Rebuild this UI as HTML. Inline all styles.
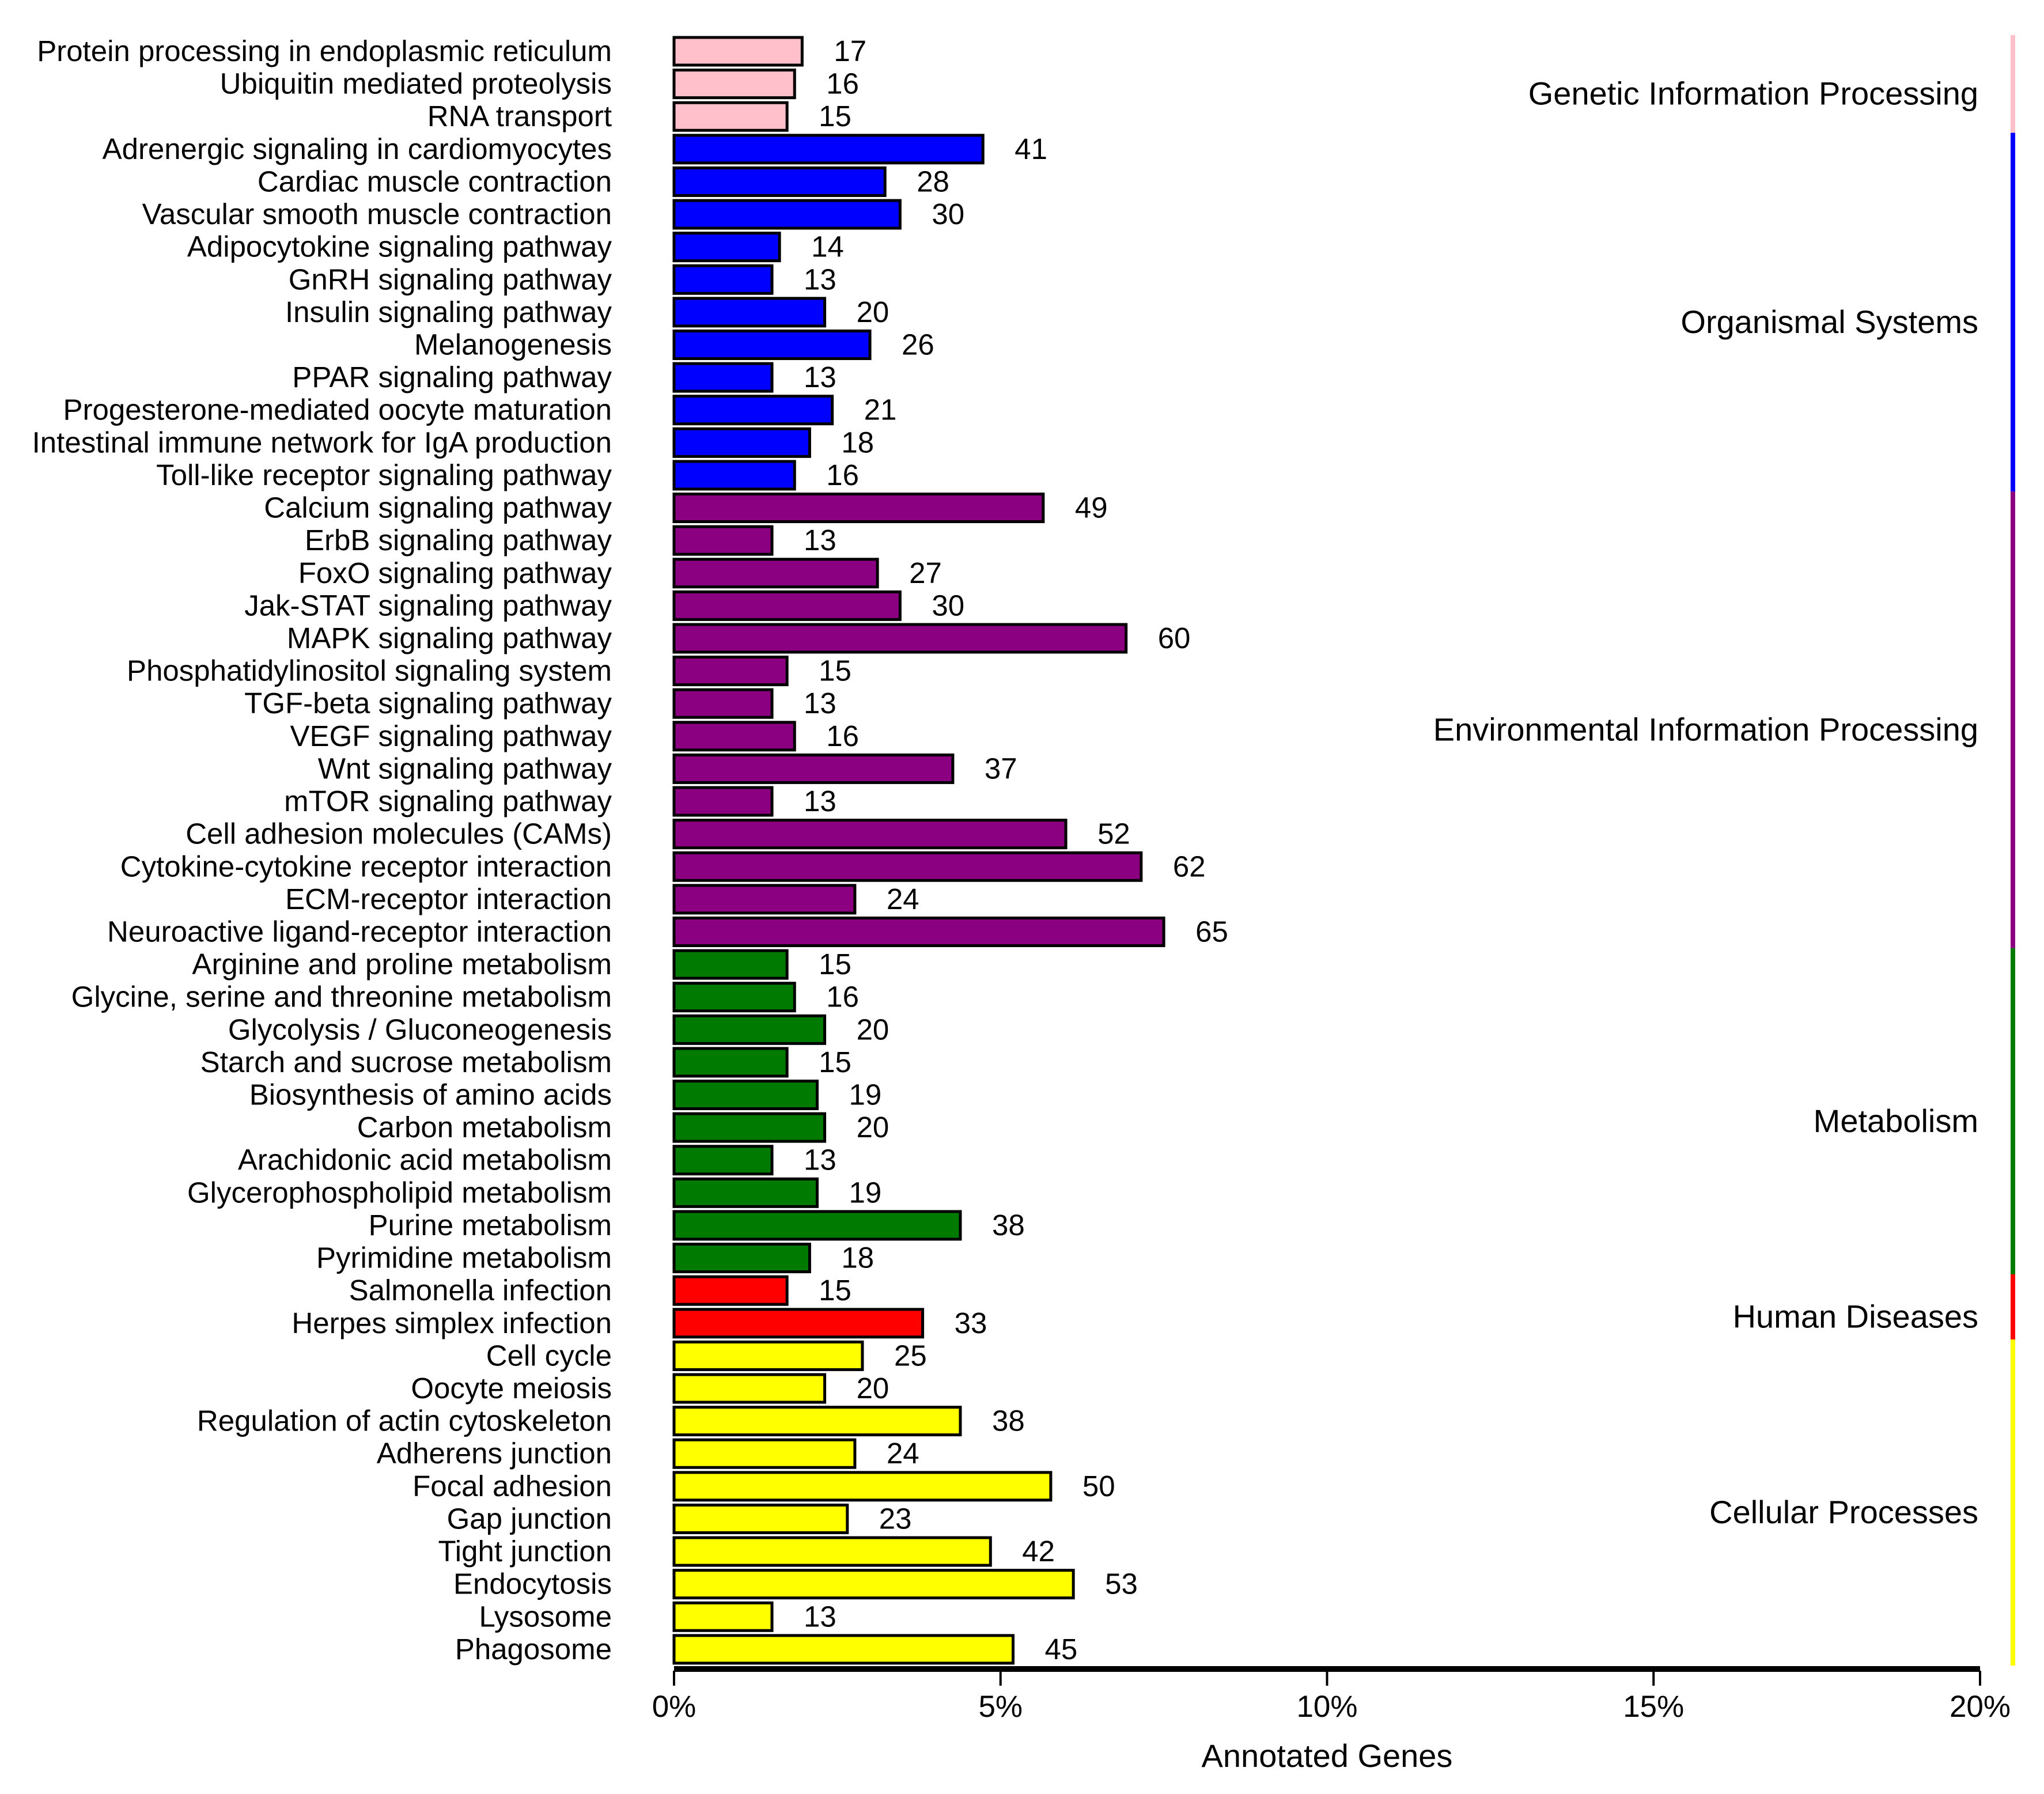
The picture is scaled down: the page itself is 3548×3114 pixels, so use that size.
<!DOCTYPE html>
<html><head><meta charset="utf-8"><style>
html,body{margin:0;padding:0;background:#fff}
svg{display:block;font-family:"Liberation Sans",Arial,sans-serif}
</style></head><body>
<svg id="chart" width="3548" height="3114" viewBox="0 0 3548 3114" xmlns="http://www.w3.org/2000/svg">
<g id="bars"></g>
<g id="axis"></g>
<g id="groups"></g>
</svg>
<script>
const categories = ["Protein processing in endoplasmic reticulum","Ubiquitin mediated proteolysis","RNA transport","Adrenergic signaling in cardiomyocytes","Cardiac muscle contraction","Vascular smooth muscle contraction","Adipocytokine signaling pathway","GnRH signaling pathway","Insulin signaling pathway","Melanogenesis","PPAR signaling pathway","Progesterone-mediated oocyte maturation","Intestinal immune network for IgA production","Toll-like receptor signaling pathway","Calcium signaling pathway","ErbB signaling pathway","FoxO signaling pathway","Jak-STAT signaling pathway","MAPK signaling pathway","Phosphatidylinositol signaling system","TGF-beta signaling pathway","VEGF signaling pathway","Wnt signaling pathway","mTOR signaling pathway","Cell adhesion molecules (CAMs)","Cytokine-cytokine receptor interaction","ECM-receptor interaction","Neuroactive ligand-receptor interaction","Arginine and proline metabolism","Glycine, serine and threonine metabolism","Glycolysis / Gluconeogenesis","Starch and sucrose metabolism","Biosynthesis of amino acids","Carbon metabolism","Arachidonic acid metabolism","Glycerophospholipid metabolism","Purine metabolism","Pyrimidine metabolism","Salmonella infection","Herpes simplex infection","Cell cycle","Oocyte meiosis","Regulation of actin cytoskeleton","Adherens junction","Focal adhesion","Gap junction","Tight junction","Endocytosis","Lysosome","Phagosome"];
const values = [17,16,15,41,28,30,14,13,20,26,13,21,18,16,49,13,27,30,60,15,13,16,37,13,52,62,24,65,15,16,20,15,19,20,13,19,38,18,15,33,25,20,38,24,50,23,42,53,13,45];
const groupNames = ["Genetic Information Processing","Organismal Systems","Environmental Information Processing","Metabolism","Human Diseases","Cellular Processes"];
const groupCounts = [3,11,14,10,2,10];
const groupColors = ["#ffc0cb","#0000ff","#8b0080","#007a00","#ff0000","#ffff00"];
const tickValues = [0,5,10,15,20];
const totalGenes = 866.7;

const NS="http://www.w3.org/2000/svg";
const x0=1170, x1=3437, xMaxPct=20;
const xPct = p => x0 + (p/xMaxPct)*(x1-x0);
const xGene = v => xPct(v/totalGenes*100);
const y0=89, pitch=56.61, bh=48;
const yRow = i => y0 + i*pitch;
function mk(tag, attrs, parent){const e=document.createElementNS(NS,tag);for(const k in attrs)e.setAttribute(k,attrs[k]);parent.appendChild(e);return e;}
const bars=document.getElementById('bars'), axis=document.getElementById('axis'), groups=document.getElementById('groups');
const rowColor=[];
groupCounts.forEach((c,g)=>{for(let k=0;k<c;k++)rowColor.push(groupColors[g]);});
categories.forEach((name,i)=>{
  const yc=yRow(i);
  const r=mk('rect',{x:x0,y:yc-bh/2,width:xGene(values[i])-x0,height:bh,fill:rowColor[i],stroke:'#000','stroke-width':5},bars);
  
  
  const t=mk('text',{x:1062,y:yc+17,'text-anchor':'end','font-size':51,fill:'#000'},bars);
  t.textContent=name;
  
  
  const v=mk('text',{x:xGene(values[i])+55,y:yc+17,'font-size':51,fill:'#000'},bars);
  v.textContent=values[i];
  
  
});
const ax=mk('rect',{x:x0,y:2892,width:x1-x0,height:10,fill:'#000'},axis);


tickValues.forEach(p=>{
  const x=xPct(p);
  const l=mk('line',{x1:x,x2:x,y1:2900,y2:2926,stroke:'#000','stroke-width':4},axis);
  
  
  const t=mk('text',{x:x,y:2980,'text-anchor':'middle','font-size':53,fill:'#000'},axis);
  t.textContent=p+'%';
  
  
});
const at=mk('text',{x:xPct(10),y:3067,'text-anchor':'middle','font-size':56,fill:'#000'},axis);
at.textContent='Annotated Genes';


let start=0;
groupCounts.forEach((c,g)=>{
  const top=yRow(start)-pitch/2, bot=yRow(start+c-1)+pitch/2;
  const r=mk('rect',{x:3490,y:top,width:8,height:bot-top,fill:groupColors[g]},groups);
  
  
  const t=mk('text',{x:3434,y:(top+bot)/2+36,'text-anchor':'end','font-size':56,fill:'#000'},groups);
  t.textContent=groupNames[g];
  
  
  start+=c;
});
</script>
</body></html>
